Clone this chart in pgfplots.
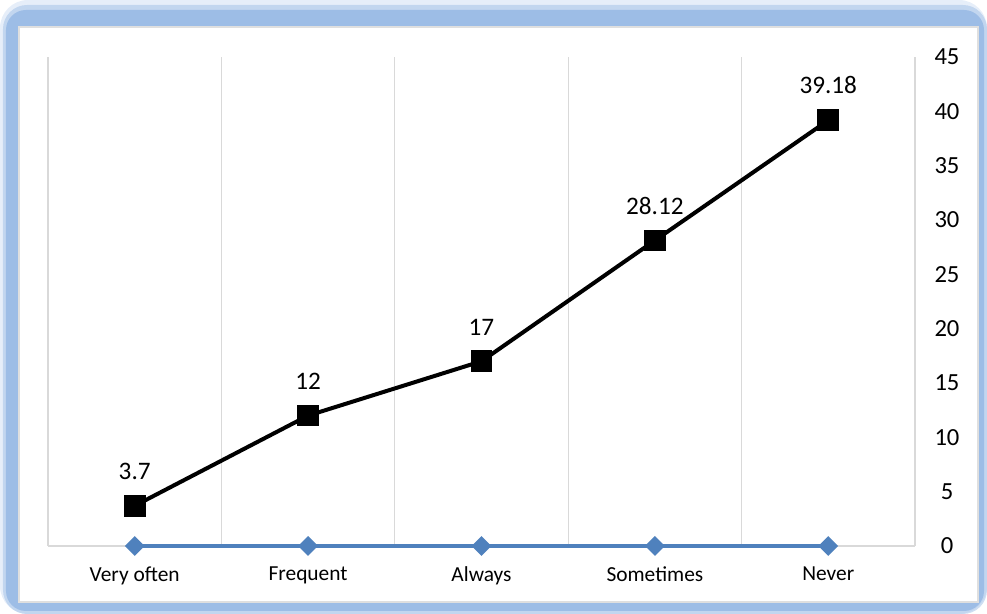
\documentclass[border=0pt]{standalone}
\usepackage{fontspec}
\setmainfont{Carlito}
\usepackage{pgfplots}
\pgfplotsset{compat=1.18}
\definecolor{frameblue}{HTML}{9DBDE6}
\definecolor{serblue}{HTML}{4F81BD}
\definecolor{gridgray}{HTML}{D9D9D9}
\begin{document}
\begin{tikzpicture}
\useasboundingbox (-24pt,-34pt) rectangle (469.5pt,273pt);
\fill[frameblue,opacity=0.25,rounded corners=14pt] (-24pt,-34pt) rectangle (469.5pt,273pt);
\fill[frameblue,opacity=0.5,rounded corners=12pt] (-22.5pt,-34pt) rectangle (469.5pt,270.5pt);
\fill[frameblue,rounded corners=10pt] (-21pt,-32.5pt) rectangle (468pt,268pt);
\filldraw[fill=white,draw=gray!25,line width=0.6pt] (-14.5pt,-28pt) rectangle (465pt,259.5pt);
\begin{axis}[
  scale only axis,
  width=433.5pt, height=244.5pt,
  xmin=0.5, xmax=5.5,
  ymin=0, ymax=45,
  xtick={1,2,3,4,5},
  xticklabels={Very often,Frequent,Always,Sometimes,Never},
  minor xtick={0.5,1.5,2.5,3.5,4.5,5.5},
  xminorgrids=true,
  minor grid style={gridgray,line width=0.6pt},
  ytick={0,5,...,45},
  yticklabel pos=right,
  axis line style={draw=none},
  tick style={draw=none},
  extra y ticks={0},
  extra y tick labels={},
  extra y tick style={grid=major, major grid style={gridgray,line width=0.8pt}},
  /pgf/number format/assume math mode=true,
  yticklabel style={font=\fontsize{12.3}{14}\selectfont, anchor=center, xshift=16pt},
  xticklabel style={font=\fontsize{10.7}{12}\selectfont, yshift=-7pt},
  clip=false,
]
\addplot[serblue, line width=2pt, mark=square*, mark size=2.5pt, mark options={rotate=45, fill=serblue}]
  coordinates {(1,0) (2,0) (3,0) (4,0) (5,0)};
\addplot[black, line width=2pt, mark=square*, mark size=5.2pt,
  mark options={fill=black, rounded corners=1.5pt, line width=0.5pt},
  nodes near coords,
  point meta=explicit symbolic,
  every node near coord/.append style={font=\fontsize{12.6}{14}\selectfont, anchor=south, yshift=9.5pt, text=black}]
  coordinates {(1,3.7)[3.7] (2,12)[12] (3,17)[17] (4,28.12)[28.12] (5,39.18)[39.18]};
\end{axis}
\end{tikzpicture}
\end{document}
